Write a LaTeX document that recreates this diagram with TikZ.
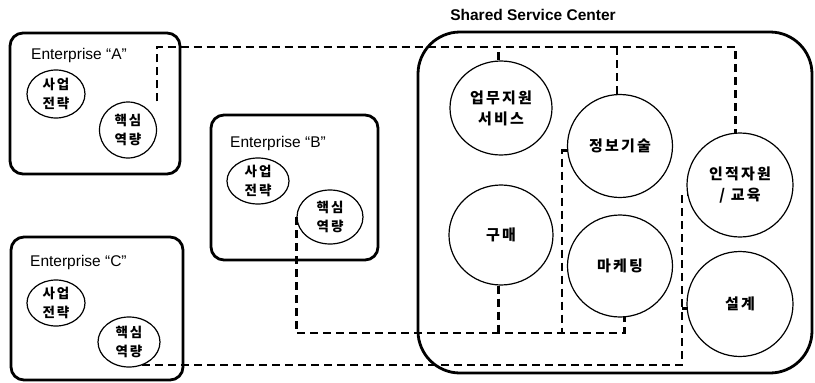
\documentclass[tikz,border=0pt]{standalone}
\usepackage{fontspec}
\setmainfont{Liberation Sans}
\newfontfamily\kr[LetterSpace=15]{Noto Sans CJK KR}
\usetikzlibrary{shapes.geometric,positioning}

\tikzset{
	firm/.style={draw, line width=2.8pt, rounded corners=13pt},
	center/.style={draw, line width=2.8pt, rounded corners=42pt},
	unit/.style={draw, ellipse, line width=1.2pt, inner sep=0pt, align=center,
		font=\kr\bfseries\fontsize{15}{21}\selectfont},
	small/.style={unit, font=\kr\bfseries\fontsize{13.5}{19}\selectfont},
	firmlabel/.style={anchor=west, inner sep=0pt, font=\fontsize{15.5}{17}\selectfont},
	bus/.style={line width=2.4pt, dash pattern=on 8pt off 5pt}
}

\begin{document}
\begin{tikzpicture}[x=1pt, y=-1pt]
	\useasboundingbox (0,0) rectangle (815,383);
	% enterprises
	\node[firm, minimum width=170, minimum height=141] (abox) at (95,103.5) {};
	\node[firm, minimum width=167, minimum height=145] (bbox) at (294.5,187.5) {};
	\node[firm, minimum width=172, minimum height=143] (cbox) at (97,308.5) {};
	\node[firmlabel] (alabel) at (31,55) {Enterprise “A”};
	\node[firmlabel] (blabel) at (230,143) {Enterprise “B”};
	\node[firmlabel] (clabel) at (30,262) {Enterprise “C”};
	\node[small, minimum width=58, minimum height=48] (astr) at (56,94) {사업\\전략};
	\node[small, minimum width=57, minimum height=56] (akey) at (128,130) {핵심\\역량};
	\node[small, minimum width=62, minimum height=46] (bstr) at (258,181) {사업\\전략};
	\node[small, minimum width=66, minimum height=54] (bkey) at (330,217) {핵심\\역량};
	\node[small, minimum width=58, minimum height=46] (cstr) at (56,303) {사업\\전략};
	\node[small, minimum width=62, minimum height=50] (ckey) at (129,342) {핵심\\역량};
	% shared service center
	\node[center, minimum width=394, minimum height=341] (ssc) at (615,202.5) {};
	\node[font=\bfseries\fontsize{15.5}{18}\selectfont] (ssclabel) at (533,15) {Shared Service Center};
	\node[unit, minimum width=102, minimum height=94] (ups) at (501,108) {업무지원\\서비스};
	\node[unit, minimum width=104, minimum height=100] (gumae) at (501,235) {구매};
	\node[unit, minimum width=105, minimum height=103] (info) at (620,146) {정보기술};
	\node[unit, minimum width=105, minimum height=102] (mkt) at (620,266) {마케팅};
	\node[unit, minimum width=106, minimum height=104] (hr) at (740,185) {인적자원\\/ 교육};
	\node[unit, minimum width=106, minimum height=105] (design) at (740,304) {설계};
	% links
	\coordinate (top) at (0,47);
	\coordinate (mid) at (562,333);
	\coordinate (low) at (682,364);
	\draw[bus] (akey.east |- akey.north) |- (top -| hr.95) -- (hr.95);
	\draw[bus] (ups.93) -- (ups.93 |- top);
	\draw[bus] (info.93) -- (info.93 |- top);
	\draw[bus] (bkey.west) |- (mid) -| (mkt.-85);
	\draw[bus] (info.185) -| (mid);
	\draw[bus] (gumae.-93) -- (gumae.-93 |- mid);
	\draw[bus] (ckey.-60) -- (ckey.-60 -| low) |- (hr.190);
	\draw[bus] (design.185) -- (design.185 -| low);
\end{tikzpicture}
\end{document}
